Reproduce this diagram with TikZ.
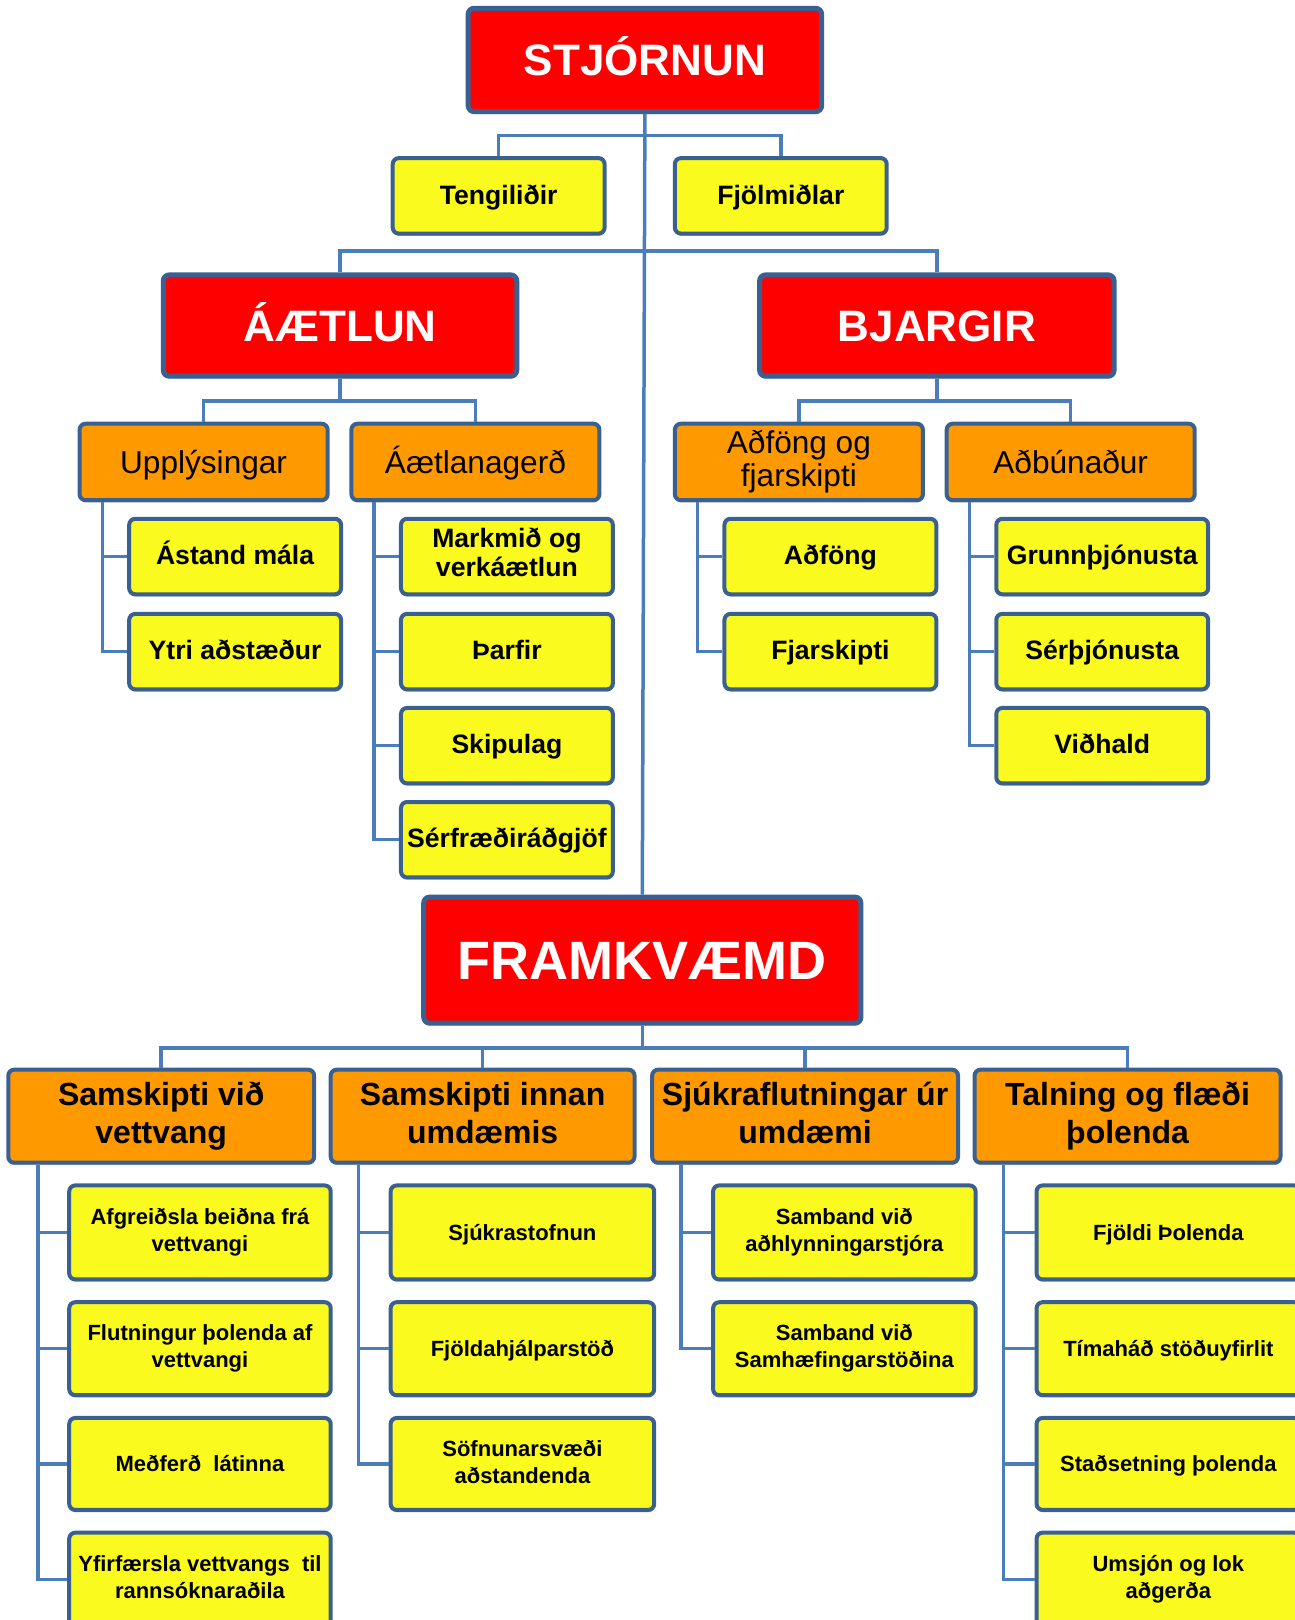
\documentclass[tikz,border=0pt]{standalone}
\usepackage{fontspec}
\setmainfont{Liberation Sans}
\usetikzlibrary{shadows}
\definecolor{bord}{RGB}{58,96,146}
\definecolor{lnblue}{RGB}{74,126,187}
\definecolor{yel}{RGB}{250,250,30}
\definecolor{ora}{RGB}{255,153,0}
\definecolor{redb}{RGB}{255,0,0}
\newcommand\mkbox[7]{\node[#6, minimum width={(#4-#2)*0.51675pt}, minimum height={(#5-#3)*0.51675pt}] (#1) at ({(#2+#4)/2},{(#3+#5)/2}) {#7};}
\newcommand\capstrut{\rule[-0.2em]{0pt}{1.116em}}
\newcommand\ycapstrut{\rule[-0.3em]{0pt}{1.08em}}
\tikzset{
  box/.style={draw=bord, line width=2pt, rounded corners=3pt, inner sep=0pt, align=center, text=black,
    drop shadow={shadow xshift=0.2pt, shadow yshift=-1.2pt, fill=black, opacity=0.22},
    execute at begin node=\capstrut, execute at end node=\capstrut},
  redbox/.style={box, fill=redb, line width=2.5pt, text=white, font=\fontsize{22}{26}\selectfont\bfseries},
  bigred/.style={redbox, font=\fontsize{27}{32}\selectfont\bfseries},
  ybox/.style={box, fill=yel, font=\fontsize{13.3}{14.5}\selectfont\bfseries,
    execute at begin node=\ycapstrut, execute at end node=\ycapstrut},
  obox/.style={box, fill=ora, font=\fontsize{15.8}{16.5}\selectfont},
  bobox/.style={box, fill=ora, font=\fontsize{16}{19}\selectfont\bfseries},
  sbox/.style={box, fill=yel, font=\fontsize{11}{13.5}\selectfont\bfseries},
  link/.style={draw=lnblue, line width=1.75pt}
}
\begin{document}
\begin{tikzpicture}[x=0.51675pt, y=-0.51675pt]
\useasboundingbox (0,0) rectangle (1253,1567.5);
\clip (0,0) rectangle (1253,1567.5);
\coordinate (barA) at (0,131);
\coordinate (barB) at (0,243);
\coordinate (barC) at (0,388);
\coordinate (barD) at (0,1014);
% top
\mkbox{stj}{453}{8}{795}{108}{redbox}{STJÓRNUN}
\mkbox{teng}{380}{153}{585}{226}{ybox}{Tengiliðir}
\mkbox{fjol}{653}{153}{858}{226}{ybox}{Fjölmiðlar}
\mkbox{aet}{158}{266}{500}{364}{redbox}{ÁÆTLUN}
\mkbox{bja}{735}{266}{1078}{364}{redbox}{BJARGIR}
\mkbox{upp}{77}{410}{317}{484}{obox}{Upplýsingar}
\mkbox{aeg}{340}{410}{580}{484}{obox}{Áætlanagerð}
\mkbox{adf}{653}{410}{893}{484}{obox}{Aðföng og\\fjarskipti}
\mkbox{adb}{916}{410}{1156}{484}{obox}{Aðbúnaður}
\mkbox{ast}{125}{502}{330}{575}{ybox}{Ástand mála}
\mkbox{ytr}{125}{594}{330}{667}{ybox}{Ytri aðstæður}
\mkbox{mar}{388}{502}{593}{575}{ybox}{Markmið og\\verkáætlun}
\mkbox{tha}{388}{594}{593}{667}{ybox}{Þarfir}
\mkbox{ski}{388}{685}{593}{758}{ybox}{Skipulag}
\mkbox{ser}{388}{776}{593}{849}{ybox}{Sérfræðiráðgjöf}
\mkbox{aef}{701}{502}{906}{575}{ybox}{Aðföng}
\mkbox{fja}{701}{594}{906}{667}{ybox}{Fjarskipti}
\mkbox{gru}{964}{502}{1169}{575}{ybox}{Grunnþjónusta}
\mkbox{sep}{964}{594}{1169}{667}{ybox}{Sérþjónusta}
\mkbox{vid}{964}{685}{1169}{758}{ybox}{Viðhald}
\mkbox{fram}{410}{868}{833}{990}{bigred}{FRAMKVÆMD}
% bottom headers
\mkbox{oa}{8}{1035}{304}{1125}{bobox}{Samskipti við\\vettvang}
\mkbox{ob}{320}{1035}{614}{1125}{bobox}{Samskipti innan\\umdæmis}
\mkbox{oc}{631}{1035}{927}{1125}{bobox}{Sjúkraflutningar úr\\umdæmi}
\mkbox{od}{943}{1035}{1239}{1125}{bobox}{Talning og flæði\\þolenda}
% bottom children
\mkbox{a1}{67}{1147}{320}{1238}{sbox}{Afgreiðsla beiðna frá\\vettvangi}
\mkbox{a2}{67}{1260}{320}{1350}{sbox}{Flutningur þolenda af\\vettvangi}
\mkbox{a3}{67}{1372}{320}{1461}{sbox}{Meðferð\ \ látinna}
\mkbox{a4}{67}{1483}{320}{1574}{sbox}{Yfirfærsla vettvangs\ \ til\\rannsóknaraðila}
\mkbox{b1}{378}{1147}{633}{1238}{sbox}{Sjúkrastofnun}
\mkbox{b2}{378}{1260}{633}{1350}{sbox}{Fjöldahjálparstöð}
\mkbox{b3}{378}{1372}{633}{1461}{sbox}{Söfnunarsvæði\\aðstandenda}
\mkbox{c1}{690}{1147}{944}{1238}{sbox}{Samband við\\aðhlynningarstjóra}
\mkbox{c2}{690}{1260}{944}{1350}{sbox}{Samband við\\Samhæfingarstöðina}
\mkbox{d1}{1003}{1147}{1258}{1238}{sbox}{Fjöldi Þolenda}
\mkbox{d2}{1003}{1260}{1258}{1350}{sbox}{Tímaháð stöðuyfirlit}
\mkbox{d3}{1003}{1372}{1258}{1461}{sbox}{Staðsetning þolenda}
\mkbox{d4}{1003}{1483}{1258}{1574}{sbox}{Umsjón og lok\\aðgerða}
% connectors
\draw[link] (stj.south) -- (fram.north);
\draw[link] (teng.north) -- (teng.north |- barA) -- (fjol.north |- barA) -- (fjol.north);
\draw[link] (aet.north) -- (aet.north |- barB) -- (bja.north |- barB) -- (bja.north);
\draw[link] (aet.south) -- (aet.south |- barC);
\draw[link] (upp.north) -- (upp.north |- barC) -- (aeg.north |- barC) -- (aeg.north);
\draw[link] (bja.south) -- (bja.south |- barC);
\draw[link] (adf.north) -- (adf.north |- barC) -- (adb.north |- barC) -- (adb.north);
\draw[link] ([xshift=12.4pt]upp.south west) |- (ast.west);
\draw[link] ([xshift=12.4pt]upp.south west) |- (ytr.west);
\draw[link] ([xshift=12.4pt]aeg.south west) |- (mar.west);
\draw[link] ([xshift=12.4pt]aeg.south west) |- (tha.west);
\draw[link] ([xshift=12.4pt]aeg.south west) |- (ski.west);
\draw[link] ([xshift=12.4pt]aeg.south west) |- (ser.west);
\draw[link] ([xshift=12.4pt]adf.south west) |- (aef.west);
\draw[link] ([xshift=12.4pt]adf.south west) |- (fja.west);
\draw[link] ([xshift=12.4pt]adb.south west) |- (gru.west);
\draw[link] ([xshift=12.4pt]adb.south west) |- (sep.west);
\draw[link] ([xshift=12.4pt]adb.south west) |- (vid.west);
\draw[link] (fram.south) -- (fram.south |- barD);
\draw[link] (oa.north) -- (oa.north |- barD) -- (od.north |- barD) -- (od.north);
\draw[link] (ob.north) -- (ob.north |- barD);
\draw[link] (oc.north) -- (oc.north |- barD);
\draw[link] ([xshift=15.8pt]oa.south west) |- (a1.west);
\draw[link] ([xshift=15.8pt]oa.south west) |- (a2.west);
\draw[link] ([xshift=15.8pt]oa.south west) |- (a3.west);
\draw[link] ([xshift=15.8pt]oa.south west) |- (a4.west);
\draw[link] ([xshift=15pt]ob.south west) |- (b1.west);
\draw[link] ([xshift=15pt]ob.south west) |- (b2.west);
\draw[link] ([xshift=15pt]ob.south west) |- (b3.west);
\draw[link] ([xshift=15.5pt]oc.south west) |- (c1.west);
\draw[link] ([xshift=15.5pt]oc.south west) |- (c2.west);
\draw[link] ([xshift=15.5pt]od.south west) |- (d1.west);
\draw[link] ([xshift=15.5pt]od.south west) |- (d2.west);
\draw[link] ([xshift=15.5pt]od.south west) |- (d3.west);
\draw[link] ([xshift=15.5pt]od.south west) |- (d4.west);
\end{tikzpicture}
\end{document}
